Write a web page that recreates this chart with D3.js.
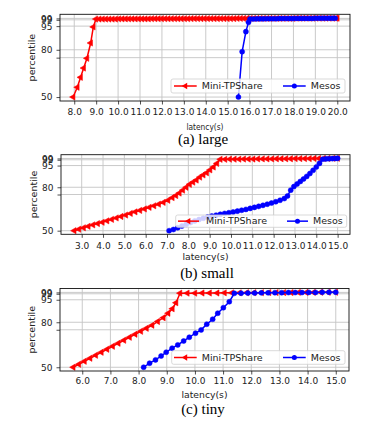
<!DOCTYPE html>
<html><head><meta charset="utf-8">
<script src="https://cdn.jsdelivr.net/npm/d3@7"></script>
<style>body{margin:0;background:#fff}svg{display:block}</style>
</head><body>
<svg id="c" width="368" height="423"></svg>
<script>
// ---------------- data ----------------
const seriesNames = ["Mini-TPShare", "Mesos"];
const yTicks = [50, 75, 80, 95, 99, 99.9];
const yTickLabels = ["50", "", "80", "95", "99", "99"];
const largeXTicks = [8, 9, 10, 11, 12, 13, 14, 15, 16, 17, 18, 19, 20];
const smallXTicks = [3, 4, 5, 6, 7, 8, 9, 10, 11, 12, 13, 14, 15];
const tinyXTicks = [6, 7, 8, 9, 10, 11, 12, 13, 14, 15];
const captions = ["(a) large", "(b) small", "(c) tiny"];

const largeMini = [[7.95,50],[8.14,56.2],[8.29,62.5],[8.43,68.4],[8.58,74.6],[8.75,84.3],[8.87,94.5],[8.99,99.5],
 [9.14,99.5],[9.29,99.5],[9.44,99.5],[9.59,99.5],[9.74,99.5],[9.89,99.5],[10.04,99.6],[10.19,99.6],[10.34,99.6],[10.49,99.6],
 [10.64,99.6],[10.79,99.6],[10.94,99.6],[11.09,99.6],[11.24,99.6],[11.39,99.6],[11.54,99.7],[11.69,99.7],[11.84,99.7],[11.99,99.7],
 [12.14,99.7],[12.29,99.7],[12.44,99.7],[12.59,99.7],[12.74,99.7],[12.89,99.7],[13.04,99.7],[13.19,99.7],[13.34,99.8],[13.49,99.8],
 [13.64,99.8],[13.79,99.8],[13.94,99.8],[14.09,99.8],[14.24,99.8],[14.39,99.8],[14.54,99.8],[14.69,99.8],[14.84,99.8],[14.99,99.8],
 [15.14,99.8],[15.29,99.8],[15.44,99.9],[15.59,99.9],[15.74,99.9],[15.89,99.9],[16.04,99.9],[16.19,99.9],[16.34,99.9],[16.49,99.9],
 [16.64,99.9],[16.79,99.9],[16.94,99.9],[17.09,99.9],[17.24,99.9],[17.39,99.9],[17.54,99.9],[17.69,99.9],[17.84,99.9],[17.99,99.9],
 [18.14,100],[18.29,100],[18.44,100],[18.59,100],[18.74,100],[18.89,100],[19.04,100],[19.19,100],[19.34,100],[19.49,100],
 [19.64,100],[19.79,100],[19.94,100],[20.0,100]];
const largeMesos = [[15.49,50],[15.66,78.8],[15.83,91.5],[15.95,97.4],[16.02,99.5],
 [16.17,99.5],[16.32,99.6],[16.47,99.6],[16.62,99.6],[16.77,99.7],[16.92,99.7],[17.07,99.7],[17.22,99.7],[17.37,99.8],[17.52,99.8],
 [17.67,99.8],[17.82,99.8],[17.97,99.8],[18.12,99.9],[18.27,99.9],[18.42,99.9],[18.57,99.9],[18.72,99.9],[18.87,99.9],[19.02,100],
 [19.17,100],[19.32,100],[19.47,100],[19.62,100],[19.77,100],[19.9,100]];

const smallMini = [[2.65,50],[2.87,51],[3.09,52],[3.31,53],[3.53,54],[3.75,54.9],[3.97,55.8],[4.19,56.8],[4.41,57.8],[4.63,58.8],
 [4.85,59.8],[5.07,60.8],[5.29,61.9],[5.51,63],[5.73,64],[5.95,65],[6.17,66.1],[6.39,67.2],[6.61,68.3],[6.83,69.5],[7.05,71],
 [7.25,72.8],[7.42,74.3],[7.58,76],[7.74,78],[7.9,80],[8.06,82],[8.22,83.5],[8.38,85],[8.54,87],[8.7,88.5],[8.86,90],[9.02,92],
 [9.18,94],[9.34,96.5],[9.5,99.3],
 [9.72,99.3],[9.94,99.4],[10.16,99.4],[10.38,99.4],[10.6,99.5],[10.82,99.5],[11.04,99.5],[11.26,99.6],[11.48,99.6],[11.7,99.6],
 [11.92,99.6],[12.14,99.7],[12.36,99.7],[12.58,99.7],[12.8,99.7],[13.02,99.8],[13.24,99.8],[13.46,99.8],[13.68,99.8],[13.9,99.9],
 [14.12,99.9],[14.34,99.9],[14.56,99.9],[14.78,100],[15.0,100]];
const smallMesos = [[7.1,50],[7.3,50.8],[7.5,52],[7.7,53.2],[7.9,54.4],[8.1,55.6],[8.3,56.7],[8.5,57.7],[8.7,58.6],[8.9,59.4],
 [9.1,60.1],[9.3,60.7],[9.5,61.3],[9.7,61.9],[9.9,62.4],[10.1,62.9],[10.3,63.5],[10.5,64.1],[10.7,64.7],[10.9,65.4],[11.1,66.1],
 [11.3,66.8],[11.5,67.5],[11.7,68.3],[11.9,69.1],[12.1,70],[12.3,71],[12.5,72.2],[12.65,74],[12.8,78],[12.95,80.5],[13.1,82.3],
 [13.25,84],[13.4,85.7],[13.55,87.5],[13.7,89.5],[13.85,91.7],[14.0,94],[14.15,96.5],[14.3,99.4],
 [14.45,99.6],[14.6,99.7],[14.75,99.8],[14.9,99.9],[15.0,100]];

const tinyMini = [[5.68,50],[5.88,52],[6.08,54],[6.28,56],[6.48,58],[6.68,60],[6.88,62],[7.08,64],[7.28,66],[7.48,68],[7.68,70],
 [7.88,72],[8.08,74],[8.28,76],[8.48,78],[8.68,80.5],[8.88,83],[9.05,86],[9.2,89],[9.33,93],[9.47,99.4],
 [9.73,99.4],[10.0,99.4],[10.26,99.5],[10.52,99.5],[10.79,99.5],[11.05,99.6],[11.31,99.6],[11.58,99.6],[11.84,99.7],[12.1,99.7],
 [12.37,99.7],[12.63,99.8],[12.89,99.8],[13.16,99.8],[13.42,99.8],[13.68,99.9],[13.95,99.9],[14.21,99.9],[14.47,100],[14.74,100],[15.0,100]];
const tinyMesos = [[8.18,50],[8.39,52.7],[8.6,54.9],[8.8,57.5],[8.98,60],[9.19,62.7],[9.39,64.9],[9.6,67.5],[9.8,70],[10.02,72.7],
 [10.22,74.9],[10.42,78.7],[10.63,82],[10.81,86],[11.01,89.7],[11.22,93.7],[11.4,99.3],
 [11.64,99.4],[11.88,99.5],[12.12,99.5],[12.36,99.6],[12.6,99.6],[12.84,99.7],[13.08,99.7],[13.32,99.8],[13.56,99.8],[13.8,99.8],
 [14.04,99.9],[14.28,99.9],[14.52,100],[14.76,100],[15.0,100]];

// ---------------- layout ----------------
const RED = "#ff0000", BLUE = "#0000ff";
const panels = [
  {mini: largeMini, mesos: largeMesos, ticks: largeXTicks, xDom: [7.35, 20.58], left: 60, right: 350, top: 14.3, bottom: 101,
   tickY: 115, xLabY: 129.5, xLabLen: 37, yLabX: 32, capY: 144, capX: 203,
   leg: {x: 171, y: 79, w: 174, h: 14, l1: 174, t1: 201.7, l2: 283, t2: 310.7, lw: 22.7}},
  {mini: smallMini, mesos: smallMesos, ticks: smallXTicks, xDom: [2.03, 15.58], left: 61, right: 350, top: 154.7, bottom: 234.3,
   tickY: 249.5, xLabY: 260, xLabLen: 46, yLabX: 34, capY: 278, capX: 207,
   leg: {x: 175.7, y: 215, w: 171, h: 12.3, l1: 178, t1: 206, l2: 287, t2: 313, lw: 21}},
  {mini: tinyMini, mesos: tinyMesos, ticks: tinyXTicks, xDom: [5.21, 15.47], left: 60, right: 349, top: 288.5, bottom: 371,
   tickY: 383.5, xLabY: 398, xLabLen: 46, yLabX: 32, capY: 414, capX: 203,
   leg: {x: 171.7, y: 350.7, w: 173.3, h: 13.6, l1: 174, t1: 201.7, l2: 283, t2: 310.7, lw: 22.7}}
];

const svg = d3.select("#c");
const FONT = "DejaVu Sans, sans-serif";
const triSym = d3.symbol().type(d3.symbolTriangle).size(17);
const cirSym = d3.symbol().type(d3.symbolCircle).size(20);

function drawMarkers(g, pts, x, y, kind, color) {
  g.selectAll(null).data(pts).enter().append("path")
    .attr("d", kind === "tri" ? triSym() : cirSym())
    .attr("transform", d => `translate(${x(d[0])},${y(d[1])})` + (kind === "tri" ? " rotate(-90)" : ""))
    .attr("fill", color).attr("stroke", color).attr("stroke-width", 0.5);
}

panels.forEach((p, i) => {
  const x = d3.scaleLinear().domain(p.xDom).range([p.left, p.right]);
  const y = d3.scaleLinear().domain([47.5, 102.5]).range([p.bottom, p.top]);
  const g = svg.append("g");

  // grid
  g.selectAll(null).data(p.ticks).enter().append("line")
    .attr("x1", d => x(d)).attr("x2", d => x(d)).attr("y1", p.top).attr("y2", p.bottom)
    .attr("stroke", "#c4c4c4").attr("stroke-width", 0.9);
  g.selectAll(null).data(yTicks).enter().append("line")
    .attr("y1", d => y(d)).attr("y2", d => y(d)).attr("x1", p.left).attr("x2", p.right)
    .attr("stroke", "#c4c4c4").attr("stroke-width", 0.9);

  // series
  const line = d3.line().x(d => x(d[0])).y(d => y(d[1]));
  g.append("path").datum(p.mini).attr("d", line).attr("fill", "none").attr("stroke", RED).attr("stroke-width", 1.5);
  drawMarkers(g, p.mini, x, y, "tri", RED);
  g.append("path").datum(p.mesos).attr("d", line).attr("fill", "none").attr("stroke", BLUE).attr("stroke-width", 1.5);
  drawMarkers(g, p.mesos, x, y, "cir", BLUE);

  // axes
  const ax = g.append("g").attr("transform", `translate(0,${p.bottom})`)
    .call(d3.axisBottom(x).tickValues(p.ticks).tickFormat(d3.format(".1f")).tickSize(3.5).tickPadding(2));
  ax.select(".domain").remove();
  ax.selectAll("text").attr("font-family", FONT).attr("font-size", 9).attr("fill", "#222").attr("dy", null)
    .attr("y", p.tickY - p.bottom).attr("dominant-baseline", "auto");
  ax.selectAll("line").attr("stroke", "#222").attr("stroke-width", 0.8);

  const ay = g.append("g").attr("transform", `translate(${p.left},0)`)
    .call(d3.axisLeft(y).tickValues(yTicks).tickFormat((d, k) => yTickLabels[k]).tickSize(3.5).tickPadding(4));
  ay.select(".domain").remove();
  ay.selectAll("text").attr("font-family", FONT).attr("font-size", 9).attr("fill", "#222");
  ay.selectAll("line").attr("stroke", "#222").attr("stroke-width", 0.8);

  // legend
  const L = p.leg;
  const lg = g.append("g");
  lg.append("rect").attr("x", L.x).attr("y", L.y).attr("width", L.w).attr("height", L.h).attr("rx", 2)
    .attr("fill", "#fff").attr("fill-opacity", 0.8).attr("stroke", "#cfcfcf").attr("stroke-width", 0.8);
  const cy = L.y + L.h / 2;
  [[L.l1, L.t1, RED, "tri", seriesNames[0]], [L.l2, L.t2, BLUE, "cir", seriesNames[1]]].forEach(e => {
    lg.append("line").attr("x1", e[0]).attr("x2", e[0] + L.lw).attr("y1", cy).attr("y2", cy)
      .attr("stroke", e[2]).attr("stroke-width", 1.5);
    lg.append("path").attr("d", e[3] === "tri" ? triSym() : cirSym())
      .attr("transform", `translate(${e[0] + L.lw / 2},${cy})` + (e[3] === "tri" ? " rotate(-90)" : ""))
      .attr("fill", e[2]);
    lg.append("text").attr("x", e[1]).attr("y", cy).attr("dy", "0.35em").text(e[4])
      .attr("font-family", FONT).attr("font-size", 9.5).attr("fill", "#222");
  });

  // spine
  g.append("rect").attr("x", p.left).attr("y", p.top).attr("width", p.right - p.left).attr("height", p.bottom - p.top)
    .attr("fill", "none").attr("stroke", "#111").attr("stroke-width", 0.9);

  // labels
  g.append("text").attr("x", (p.left + p.right) / 2).attr("y", p.xLabY).attr("text-anchor", "middle")
    .attr("font-family", FONT).attr("font-size", 9).attr("fill", "#222")
    .attr("textLength", p.xLabLen).attr("lengthAdjust", "spacingAndGlyphs").text("latency(s)");
  g.append("text").attr("transform", `translate(${p.yLabX},${(p.top + p.bottom) / 2}) rotate(-90)`)
    .attr("text-anchor", "middle").attr("dy", "0.35em")
    .attr("font-family", FONT).attr("font-size", 9.5).attr("fill", "#222").text("percentile");
  g.append("text").attr("x", p.capX).attr("y", p.capY).attr("text-anchor", "middle")
    .attr("font-family", "Liberation Serif, Times New Roman, serif").attr("font-size", 15).attr("fill", "#000")
    .text(captions[i]);
});
</script>
</body></html>
